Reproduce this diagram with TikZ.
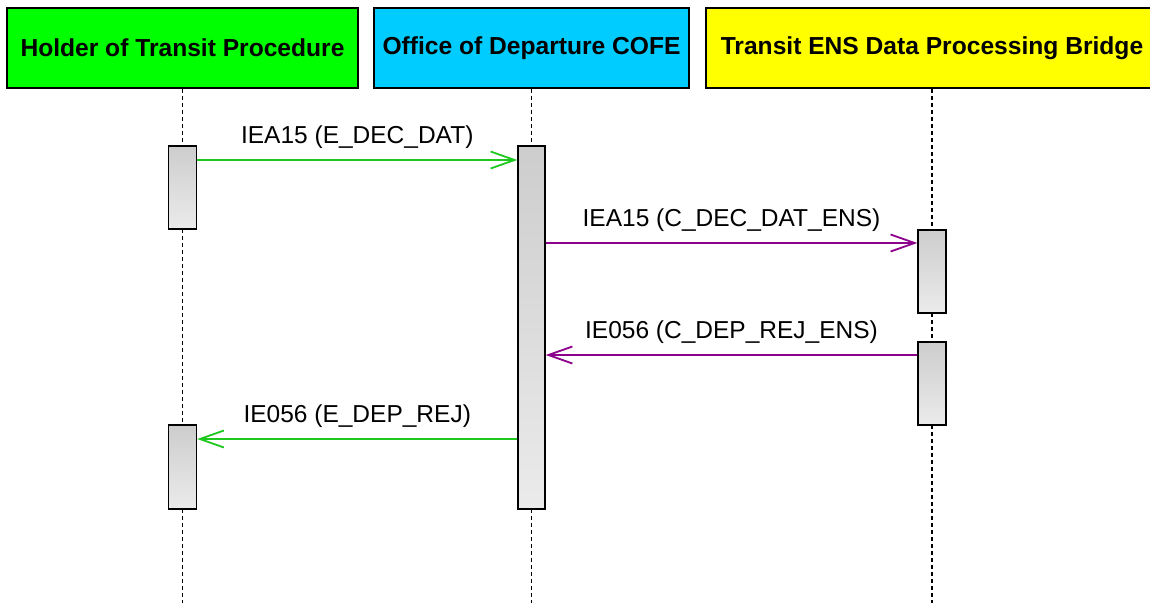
\documentclass[tikz,border=0pt]{standalone}
\usepackage{fontspec}
\setmainfont{Liberation Sans}
\usetikzlibrary{arrows.meta}
\definecolor{hdrgreen}{RGB}{0,255,0}
\definecolor{hdrblue}{RGB}{0,204,255}
\definecolor{hdryellow}{RGB}{255,255,0}
\definecolor{msggreen}{RGB}{30,200,30}
\definecolor{msgpurple}{RGB}{140,0,140}
\definecolor{acttop}{RGB}{205,205,205}
\definecolor{actbot}{RGB}{235,235,235}
\tikzset{
  hdr/.style={draw=black, line width=1.5pt, minimum height=80pt, inner sep=0pt,
    font=\fontsize{24.6}{28}\selectfont\bfseries},
  life/.style={line width=1.1pt, dash pattern=on 4pt off 3pt},
  actbox/.style={draw=black, line width=1.4pt, minimum width=28pt, inner sep=0pt,
    top color=acttop, bottom color=actbot},
  msg/.style={line width=1.8pt, -{Straight Barb[length=24pt,width=17pt]}},
  lbl/.style={font=\fontsize{24.5}{28}\selectfont, anchor=base, yshift=17pt, inner sep=0pt}
}
\begin{document}
\begin{tikzpicture}[x=1pt,y=-1pt]
\useasboundingbox (0,0) rectangle (1150,603);
\clip (0,0) rectangle (1150,603);
% headers
\node[hdr, fill=hdrgreen, minimum width=351pt] (hold) at (182.5,48) {Holder of Transit Procedure};
\node[hdr, fill=hdrblue, minimum width=315pt] (off) at (531.5,48) {Office of Departure COFE};
\node[hdr, fill=hdryellow, minimum width=452pt] (brg) at (932,48) {Transit ENS Data Processing Bridge};
% lifeline ends
\coordinate (holdend) at (182.5,603);
\coordinate (offend) at (531.5,603);
\coordinate (brgend) at (932,603);
\draw[life] (hold.south) -- (holdend);
\draw[life] (off.south) -- (offend);
\draw[life] (brg.south) -- (brgend);
% activations
\node[actbox, minimum height=83pt] (h1) at (182.5,187.5) {};
\node[actbox, minimum height=84pt] (h2) at (182.5,467) {};
\node[actbox, minimum width=27pt, minimum height=363pt] (o1) at (531.5,327.5) {};
\node[actbox, minimum height=83pt] (b1) at (932,271.5) {};
\node[actbox, minimum height=83pt] (b2) at (932,383.5) {};
% message levels
\coordinate (m1) at (0,160);
\coordinate (m2) at (0,243);
\coordinate (m3) at (0,355);
\coordinate (m4) at (0,439);
\draw[msg, msggreen] (h1.east |- m1) -- node[lbl, text=black] {IEA15 (E\_DEC\_DAT)} (o1.west |- m1);
\draw[msg, msgpurple] (o1.east |- m2) -- node[lbl, text=black] {IEA15 (C\_DEC\_DAT\_ENS)} (b1.west |- m2);
\draw[msg, msgpurple] (b2.west |- m3) -- node[lbl, text=black] {IE056 (C\_DEP\_REJ\_ENS)} (o1.east |- m3);
\draw[msg, msggreen] (o1.west |- m4) -- node[lbl, text=black] {IE056 (E\_DEP\_REJ)} (h2.east |- m4);
\end{tikzpicture}
\end{document}
